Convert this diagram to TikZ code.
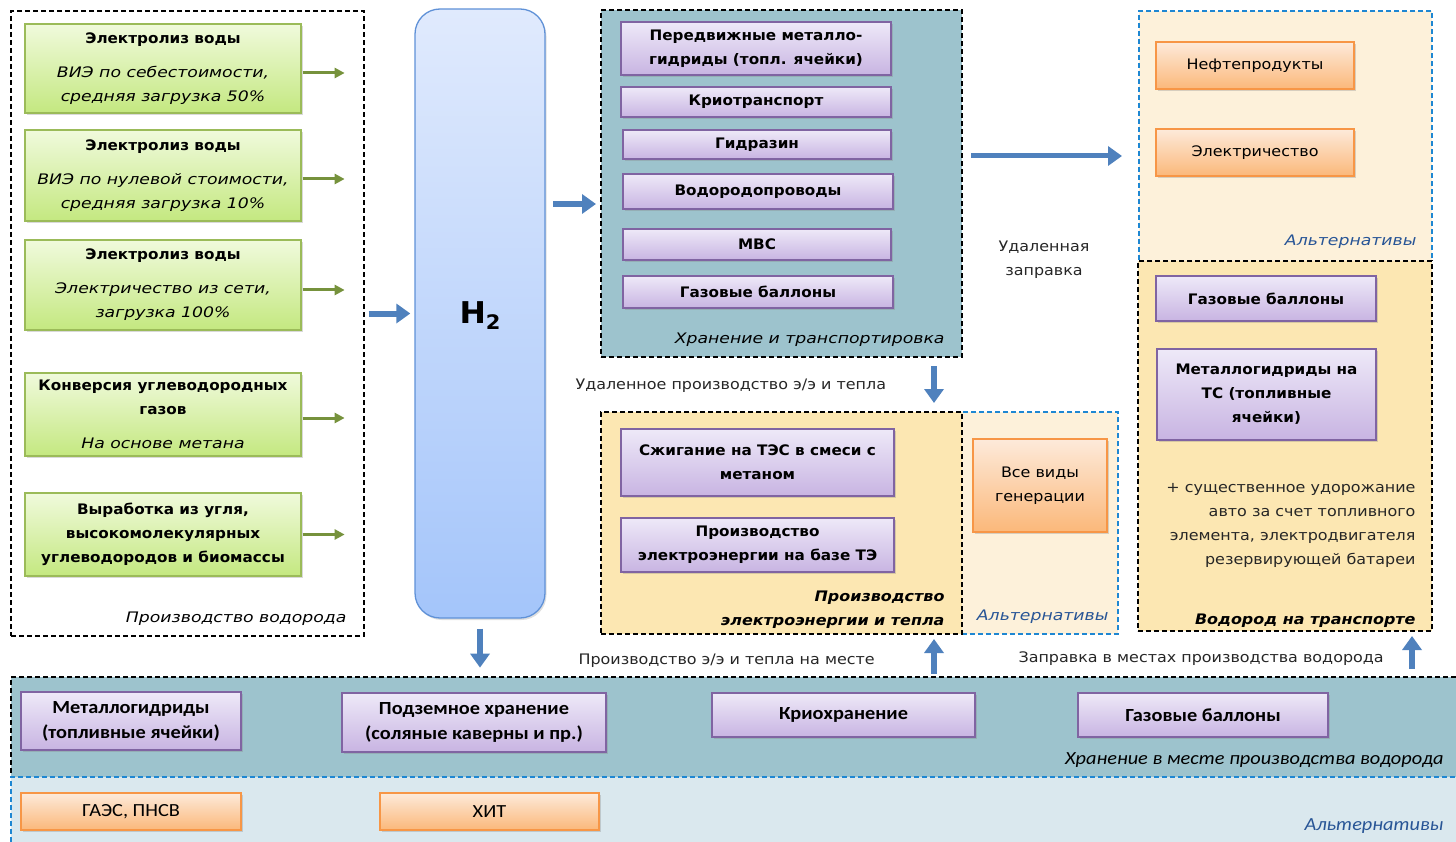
\documentclass[tikz,border=0pt]{standalone}
\usepackage{fontspec}
\setmainfont{DejaVu Sans}[UprightFeatures={FakeStretch=1.1}, BoldFeatures={FakeStretch=1.05},
  ItalicFeatures={FakeStretch=1.19}, BoldItalicFeatures={FakeStretch=1.1}]
\newfontfamily\calib{Carlito}[FakeStretch=1.1]
\usetikzlibrary{arrows.meta, positioning, shadows}

\definecolor{storfill}{RGB}{157,195,205}
\definecolor{yelfill}{RGB}{252,231,178}
\definecolor{creamfill}{RGB}{253,241,218}
\definecolor{lowfill}{RGB}{218,232,238}
\definecolor{altblue}{RGB}{30,135,210}
\definecolor{alttext}{RGB}{40,85,150}
\definecolor{arrblue}{RGB}{79,129,189}
\definecolor{arrgreen}{RGB}{118,146,60}
\definecolor{purpline}{RGB}{128,100,162}
\definecolor{purptop}{RGB}{238,233,248}
\definecolor{purpbot}{RGB}{200,180,226}
\definecolor{greenline}{RGB}{155,187,89}
\definecolor{greentop}{RGB}{240,250,220}
\definecolor{greenbot}{RGB}{196,232,128}
\definecolor{orline}{RGB}{247,150,70}
\definecolor{ortop}{RGB}{253,234,218}
\definecolor{orbot}{RGB}{251,184,122}
\definecolor{h2line}{RGB}{95,145,215}
\definecolor{h2top}{RGB}{224,234,253}
\definecolor{h2bot}{RGB}{164,197,250}

\newcommand\bxfont{\fontsize{14.5}{24}\selectfont}
\newcommand\lowfont{\calib\fontsize{18.5}{25}\selectfont}

\tikzset{
  box/.style={draw, line width=1.3pt, align=center, inner sep=0pt,
    drop shadow={opacity=0.3, shadow xshift=1.5pt, shadow yshift=-2pt}},
  greenbox/.style={box, draw=greenline, top color=greentop, bottom color=greenbot, font=\bxfont},
  purpbox/.style={box, draw=purpline, top color=purptop, bottom color=purpbot, font=\bxfont\bfseries},
  orbox/.style={box, draw=orline, top color=ortop, bottom color=orbot, font=\bxfont},
  frame/.style={draw=black, line width=1.3pt, dash pattern=on 5pt off 3pt, inner sep=0pt},
  altframe/.style={frame, draw=altblue},
  tag/.style={font=\bxfont\itshape, anchor=east},
  alttag/.style={tag, text=alttext},
  note/.style={font=\bxfont, text=black!85},
  bluearr/.style={draw=arrblue, line width=6pt, -{Triangle[length=14pt,width=19pt]}},
  greenarr/.style={draw=arrgreen, line width=3pt, -{Triangle[length=10pt,width=10pt]}}
}

\begin{document}
\begin{tikzpicture}[x=1pt, y=-1pt]
\useasboundingbox (0,0) rectangle (1456,842);

% frames
\node[frame, minimum width=353pt, minimum height=625pt] (prod) at (187.5,323.5) {};
\node[frame, fill=storfill, minimum width=361pt, minimum height=347pt] (stor) at (781.5,183.5) {};
\node[altframe, fill=creamfill, minimum width=156pt, minimum height=222pt] (genalt) at (1040,523) {};
\node[frame, fill=yelfill, minimum width=361pt, minimum height=222pt] (gen) at (781.5,523) {};
\node[altframe, fill=creamfill, minimum width=293pt, minimum height=250pt] (fuelalt) at (1285.5,136) {};
\node[frame, fill=yelfill, minimum width=294pt, minimum height=370pt] (trans) at (1285,446) {};

% bottom band
\fill[storfill] (11,677) rectangle (1456,777);
\fill[lowfill] (11,777) rectangle (1456,842);
\draw[frame] (1456,677) -- (11,677) -- (11,777);
\draw[frame, draw=altblue] (11,842) -- (11,777) -- (1456,777);

% production of hydrogen
\node[greenbox, minimum width=276pt, minimum height=89pt] (g1) at (163,68.5)
  {\bfseries Электролиз воды\\[10pt]\itshape ВИЭ по себестоимости,\\\itshape средняя загрузка 50\%};
\node[greenbox, minimum width=276pt, minimum height=91pt] (g2) at (163,175.5)
  {\bfseries Электролиз воды\\[10pt]\itshape ВИЭ по нулевой стоимости,\\\itshape средняя загрузка 10\%};
\node[greenbox, minimum width=276pt, minimum height=90pt] (g3) at (163,285)
  {\bfseries Электролиз воды\\[10pt]\itshape Электричество из сети,\\\itshape загрузка 100\%};
\node[greenbox, minimum width=276pt, minimum height=83pt] (g4) at (163,414.5)
  {\bfseries Конверсия углеводородных\\\bfseries газов\\[10pt]\itshape На основе метана};
\node[greenbox, minimum width=276pt, minimum height=83pt] (g5) at (163,534.5)
  {\bfseries Выработка  из угля,\\\bfseries высокомолекулярных\\\bfseries углеводородов  и биомассы};
\node[tag] at (350,619) {Производство водорода};

\foreach \g/\dy in {g1/-4.5,g2/-3.5,g3/-5,g4/-3.5,g5/0}
  \draw[greenarr] ([xshift=1pt,yshift=\dy pt]\g.east) -- ([xshift=43pt,yshift=\dy pt]\g.east);

% H2
\node[draw=h2line, line width=1.3pt, rounded corners=25pt, top color=h2top, bottom color=h2bot,
  minimum width=130pt, minimum height=609pt,
  drop shadow={opacity=0.25, shadow xshift=1.5pt, shadow yshift=-2pt}] (h2) at (480,313.5) {};
\node[font=\fontsize{30}{30}\selectfont\bfseries] (h2txt) at (480,316) {H\raisebox{-6pt}{\fontsize{20}{20}\selectfont 2}};

% storage and transport
\node[purpbox, minimum width=270pt, minimum height=53pt] (p1) at (756,48.5)
  {Передвижные металло-\\гидриды (топл. ячейки)};
\node[purpbox, minimum width=270pt, minimum height=30pt] (p2) at (756,102) {Криотранспорт};
\node[purpbox, minimum width=268pt, minimum height=29pt] (p3) at (757,144.5) {Гидразин};
\node[purpbox, minimum width=270pt, minimum height=35pt] (p4) at (758,191.5) {Водородопроводы};
\node[purpbox, minimum width=268pt, minimum height=31pt] (p5) at (757,244.5) {МВС};
\node[purpbox, minimum width=270pt, minimum height=32pt] (p6) at (758,292) {Газовые баллоны};
\node[tag] at (948,340) {Хранение и транспортировка};

% generation
\node[purpbox, minimum width=273pt, minimum height=67pt] (s1) at (757.5,462.5)
  {Сжигание на ТЭС в смеси с\\метаном};
\node[purpbox, minimum width=273pt, minimum height=54pt] (s2) at (757.5,545)
  {Производство\\электроэнергии на базе ТЭ};
\node[tag, font=\bxfont\bfseries\itshape, align=right] at (948,610)
  {Производство\\электроэнергии и тепла};
\node[orbox, minimum width=134pt, minimum height=93pt] (o3) at (1040,485.5) {Все виды\\генерации};
\node[alttag] at (1112,617) {Альтернативы};

% alternatives, remote fuelling
\node[orbox, minimum width=198pt, minimum height=47pt] (o1) at (1255,65.5) {Нефтепродукты};
\node[orbox, minimum width=198pt, minimum height=47pt] (o2) at (1255,152.5) {Электричество};
\node[alttag] at (1420,242) {Альтернативы};

% hydrogen in transport
\node[purpbox, minimum width=220pt, minimum height=45pt] (t1) at (1266,298.5) {Газовые баллоны};
\node[purpbox, minimum width=219pt, minimum height=91pt] (t2) at (1266.5,394.5)
  {Металлогидриды на\\ТС (топливные\\ячейки)};
\node[note, align=right, anchor=east] (extra) at (1419,525)
  {+ существенное удорожание\\авто за счет топливного\\элемента, электродвигателя\\резервирующей  батареи};
\node[tag, font=\bxfont\bfseries\itshape] at (1419,621) {Водород на транспорте};

% storage at production site
\node[purpbox, font=\lowfont\bfseries, minimum width=220pt, minimum height=58pt] (b1) at (131,721)
  {Металлогидриды\\(топливные ячейки)};
\node[purpbox, font=\lowfont\bfseries, minimum width=264pt, minimum height=59pt] (b2) at (474,722.5)
  {Подземное хранение\\(соляные каверны и пр.)};
\node[purpbox, font=\lowfont\bfseries, minimum width=263pt, minimum height=44pt] (b3) at (843.5,715) {Криохранение};
\node[purpbox, font=\lowfont\bfseries, minimum width=250pt, minimum height=44pt] (b4) at (1203,715) {Газовые баллоны};
\node[tag, font=\lowfont\itshape] at (1447,760) {Хранение в месте производства водорода};
\node[orbox, font=\lowfont, minimum width=220pt, minimum height=37pt] (a1) at (131,811.5) {ГАЭС, ПНСВ};
\node[orbox, font=\lowfont, minimum width=219pt, minimum height=37pt] (a2) at (489.5,811.5) {ХИТ};
\node[alttag, font=\lowfont\itshape] at (1447,826) {Альтернативы};

% labels on the flows
\node[note, align=center] (remfuel) at (1044,259.5) {Удаленная\\заправка};
\node[note, anchor=west] (remgen) at (572,386) {Удаленное производство э/э и тепла};
\node[note, anchor=west] (locgen) at (575,661) {Производство э/э и тепла на месте};
\node[note, anchor=west] (locfuel) at (1015,659) {Заправка в местах производства водорода};

% flows
\coordinate (h2r) at (553,204);
\coordinate (storin) at (596,204);
\coordinate (bigl) at (971,156);
\coordinate (bigr) at (1122,156);
\coordinate (gd1) at (934,366);
\coordinate (gd2) at (934,403);
\coordinate (gu1) at (934,674);
\coordinate (gu2) at (934,639);
\coordinate (tu1) at (1412,669);
\coordinate (tu2) at (1412,636);
\draw[bluearr] ([xshift=4pt]prod.east |- h2) -- ([xshift=-4pt]h2.west);
\draw[bluearr] (h2r) -- (storin);
\draw[bluearr] ([yshift=-10pt]h2.south) -- ([yshift=-49pt]h2.south);
\draw[bluearr, line width=5pt] (bigl) -- (bigr);
\draw[bluearr] (gd1) -- (gd2);
\draw[bluearr] (gu1) -- (gu2);
\draw[bluearr] (tu1) -- (tu2);
\end{tikzpicture}
\end{document}
